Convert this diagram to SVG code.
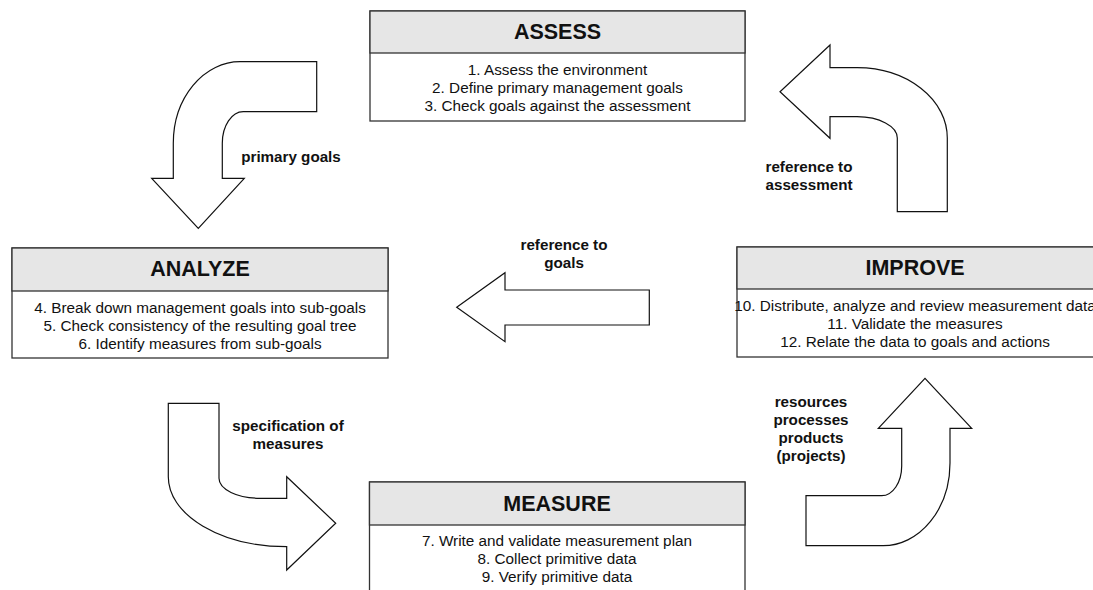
<svg xmlns="http://www.w3.org/2000/svg" width="1093" height="590" viewBox="0 0 1093 590">
  <style>
    .box { fill: #ffffff; stroke: #333333; stroke-width: 1.3; }
    .head { fill: #e6e6e6; stroke: #333333; stroke-width: 1.3; }
    .title { font-family: "Liberation Sans", Arial, sans-serif; font-size: 21.5px; font-weight: bold; fill: #111111; text-anchor: middle; }
    .item { font-family: "Liberation Sans", Arial, sans-serif; font-size: 15.3px; fill: #111111; text-anchor: middle; }
    .arrow { fill: #ffffff; stroke: #111111; stroke-width: 1.2; stroke-linejoin: miter; }
    .label { font-family: "Liberation Sans", Arial, sans-serif; font-size: 15.2px; font-weight: bold; fill: #111111; text-anchor: middle; }
  </style>

  <rect x="0" y="0" width="1093" height="590" fill="#ffffff"/>

  <!-- Block arrows between the phases, with their labels -->
  <g id="connectors">
    <g id="arrow-primary-goals">
      <path class="arrow" d="M316.7,61.7 H240 A66.7,81.6 0 0 0 173.3,143.3 V178.3 H151.7 L198.3,228.3 L244.3,178.3 H222.3 V143.3 A21,31.6 0 0 1 243.3,111.7 H316.7 Z"/>
      <text class="label" x="291" y="162">primary goals</text>
    </g>
    <g id="arrow-reference-to-assessment">
      <path class="arrow" d="M830,45 L780,91.7 L830,138.3 V116.7 H857 A40.3,21.3 0 0 1 897.3,138 V211.7 H947.3 V138 A90.3,70.3 0 0 0 857,67.7 H830 Z"/>
      <text class="label" x="809" y="172">reference to</text>
      <text class="label" x="809" y="190">assessment</text>
    </g>
    <g id="arrow-reference-to-goals">
      <path class="arrow" d="M456.7,307.3 L505,272.7 V290 H649.3 V325 H505 V341.7 Z"/>
      <text class="label" x="564" y="250">reference to</text>
      <text class="label" x="564" y="268">goals</text>
    </g>
    <g id="arrow-specification">
      <path class="arrow" d="M168.3,403.3 H219 V478.3 A41,20 0 0 0 260,498.3 H286.7 V476.7 L335.7,523.3 L286.7,570 V546.7 A118.4,70 0 0 1 168.3,476.7 Z"/>
      <text class="label" x="288" y="431">specification of</text>
      <text class="label" x="288" y="449">measures</text>
    </g>
    <g id="arrow-resources">
      <path class="arrow" d="M806,545.7 H883.3 A66.7,82.7 0 0 0 950,463 V428.3 H971.7 L925,378.3 L878.3,428.3 H901.7 V466 A20,29.7 0 0 1 881.7,495.7 H806 Z"/>
      <text class="label" x="811" y="407">resources</text>
      <text class="label" x="811" y="425">processes</text>
      <text class="label" x="811" y="443">products</text>
      <text class="label" x="811" y="461">(projects)</text>
    </g>
  </g>

  <!-- Phase boxes: grey heading band over a white list of steps -->
  <g id="assess">
    <rect class="box" x="370" y="11" width="375" height="110"/>
    <rect class="head" x="370" y="11" width="375" height="42"/>
    <text class="title" x="557.5" y="38.5">ASSESS</text>
    <text class="item" x="557.5" y="74.5">1. Assess the environment</text>
    <text class="item" x="557.5" y="92.5">2. Define primary management goals</text>
    <text class="item" x="557.5" y="110.5">3. Check goals against the assessment</text>
  </g>

  <g id="analyze">
    <rect class="box" x="12" y="248" width="376" height="110"/>
    <rect class="head" x="12" y="248" width="376" height="43"/>
    <text class="title" x="200" y="276">ANALYZE</text>
    <text class="item" x="200" y="313">4. Break down management goals into sub-goals</text>
    <text class="item" x="200" y="331">5. Check consistency of the resulting goal tree</text>
    <text class="item" x="200" y="349">6. Identify measures from sub-goals</text>
  </g>

  <g id="improve">
    <rect class="box" x="737" y="247" width="380" height="110"/>
    <rect class="head" x="737" y="247" width="380" height="42"/>
    <text class="title" x="915" y="275">IMPROVE</text>
    <text class="item" x="915" y="311">10. Distribute, analyze and review measurement data</text>
    <text class="item" x="915" y="329">11. Validate the measures</text>
    <text class="item" x="915" y="347">12. Relate the data to goals and actions</text>
  </g>

  <g id="measure">
    <rect class="box" x="369.5" y="482" width="375.5" height="112"/>
    <rect class="head" x="369.5" y="482" width="375.5" height="43"/>
    <text class="title" x="557" y="511">MEASURE</text>
    <text class="item" x="557" y="546">7. Write and validate measurement plan</text>
    <text class="item" x="557" y="564">8. Collect primitive data</text>
    <text class="item" x="557" y="582">9. Verify primitive data</text>
  </g>
</svg>
